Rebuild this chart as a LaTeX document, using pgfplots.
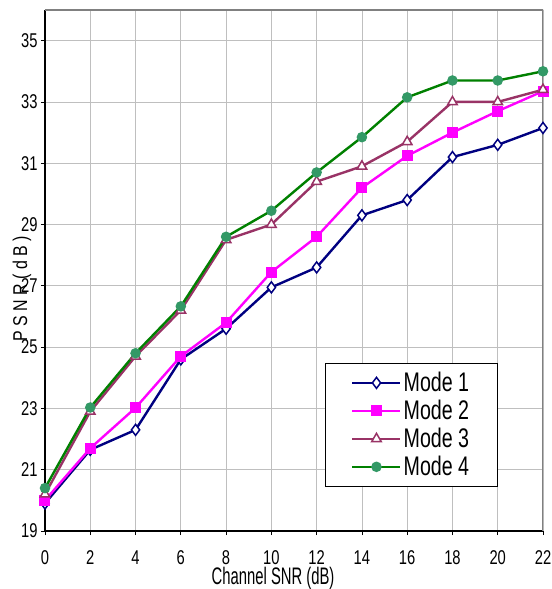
\documentclass[border=0pt]{standalone}
\usepackage{pgfplots}
\pgfplotsset{compat=1.18}
\usepackage{fontspec}
\setmainfont{Liberation Sans}[FakeStretch=0.74]
\newfontfamily\labfont{Liberation Sans}[FakeStretch=0.62]
\newfontfamily\ylabfont{Liberation Sans}[FakeStretch=0.8]
\newfontfamily\legfont{Liberation Sans}[FakeStretch=0.73]
\definecolor{mnavy}{HTML}{000080}
\definecolor{mmag}{HTML}{FF00FF}
\definecolor{mplum}{HTML}{993366}
\definecolor{mgreen}{HTML}{008000}
\definecolor{mgfill}{HTML}{339966}
\begin{document}
\begin{tikzpicture}
\useasboundingbox (-45bp,-58bp) rectangle (507bp,531bp);
\begin{axis}[
  scale only axis, width=498bp, height=521bp,
  xmin=0, xmax=22, ymin=19, ymax=36,
  xtick={0,2,...,22}, ytick={19,21,...,35},
  axis lines=left, axis line style={-, black, line width=1.4bp},
  grid=major, grid style={draw=black!25, line width=0.8bp},
  tick align=outside, major tick length=4bp, tick style={black, line width=0.8bp},
  /pgf/number format/assume math mode=true,
  ticklabel style={font=\fontsize{20}{22}\selectfont},
  xticklabel style={yshift=-12bp},
  xlabel={Channel SNR (dB)},
  ylabel={P S N R ( d B )},
  xlabel style={font=\labfont\fontsize{24}{26}\selectfont, at={(axis description cs:0.458,0)}, anchor=center, yshift=-47bp},
  ylabel style={font=\ylabfont\fontsize{20}{22}\selectfont, at={(axis description cs:-0.0462,0.465)}, anchor=center},
  legend style={at={(0.562,0.3225)}, anchor=north west, draw=black, line width=0.8bp,
    font=\legfont\fontsize{27}{28}\selectfont, inner xsep=26bp, inner ysep=7bp,
    nodes={inner sep=2bp}, row sep=3bp},
  legend cell align=left,
  legend image code/.code={\draw[mark repeat=2,mark phase=2] plot coordinates {(0bp,0bp) (24bp,0bp) (48bp,0bp)};},
]
\draw[black!50, line width=1.6bp] (rel axis cs:0,1) -- (rel axis cs:1,1) -- (rel axis cs:1,0);
\addplot[mnavy, line width=2.4bp, mark=diamond*, mark size=5.5bp, mark options={fill=white, line width=1.5bp}] coordinates {
(0,19.9) (2,21.65) (4,22.3) (6,24.6) (8,25.6) (10,26.95) (12,27.6) (14,29.3) (16,29.8) (18,31.2) (20,31.6) (22,32.15)};
\addlegendentry{Mode 1}
\addplot[mmag, line width=2.4bp, mark=square*, mark size=4.3bp, mark options={fill=mmag}] coordinates {
(0,20.0) (2,21.7) (4,23.02) (6,24.7) (8,25.8) (10,27.45) (12,28.6) (14,30.2) (16,31.24) (18,32.0) (20,32.7) (22,33.35)};
\addlegendentry{Mode 2}
\addplot[mplum, line width=2.4bp, mark=triangle*, mark size=5.5bp, mark options={fill=white, line width=1.5bp}] coordinates {
(0,20.2) (2,22.9) (4,24.7) (6,26.2) (8,28.5) (10,29.0) (12,30.4) (14,30.9) (16,31.7) (18,33.0) (20,33.0) (22,33.4)};
\addlegendentry{Mode 3}
\addplot[mgreen, line width=2.4bp, mark=*, mark size=4bp, mark options={fill=mgfill, draw=mgfill}] coordinates {
(0,20.4) (2,23.03) (4,24.8) (6,26.33) (8,28.6) (10,29.45) (12,30.7) (14,31.85) (16,33.15) (18,33.7) (20,33.7) (22,34.0)};
\addlegendentry{Mode 4}
\end{axis}
\end{tikzpicture}
\end{document}
